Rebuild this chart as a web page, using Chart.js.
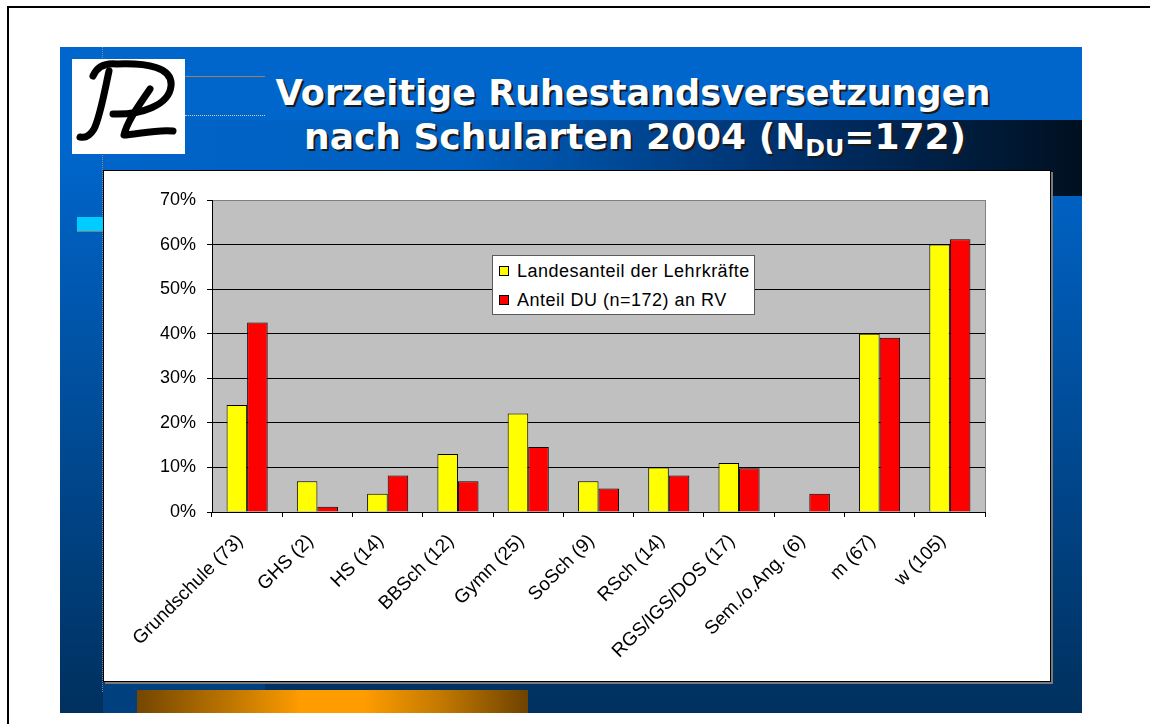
<!DOCTYPE html>
<html>
<head>
<meta charset="utf-8">
<script src="https://cdn.jsdelivr.net/npm/chart.js@4.4.1/dist/chart.umd.min.js"></script>
<style>
body { margin:0; width:1150px; height:724px; position:relative; overflow:hidden; background:#fff; font-family:"Liberation Sans", Arial, sans-serif; }
.abs { position:absolute; }
#frameTop { left:7px; top:6px; width:1143px; height:2px; background:#000; }
#frameLeft { left:7px; top:6px; width:2px; height:718px; background:#000; }
#panel { left:60px; top:47px; width:1022px; height:666px; background:linear-gradient(to bottom, #0066cc 0px, #0066cc 100px, #00305e 666px); }
#band { left:140px; top:120px; width:942px; height:76px; background:linear-gradient(to right, #0063c6 0px, #0060c0 320px, #00306a 650px, #001020 942px); }
#strip { left:103px; top:681px; width:162px; height:32px; background:#00407e; }
#vline { left:102px; top:47px; width:0; height:645px; border-left:1px dotted #8a8a8a; }
#hline1 { left:185px; top:76px; width:80px; height:0; border-top:1px solid #a08060; }
#hline2 { left:185px; top:115px; width:80px; height:0; border-top:1px dotted #d0d0d0; }
#cyan { left:77px; top:217px; width:27px; height:14px; background:#00ccff; border-bottom:1px solid #808080; }
#logo { left:72px; top:59px; }
.title { width:880px; text-align:center; color:#fff; font-family:"DejaVu Sans", Verdana, sans-serif; font-weight:bold; font-size:32px; line-height:40px; text-shadow:2px 2px 0 #1a1a1a; white-space:nowrap; }
.title span { display:inline-block; }
#t1 { top:73px; left:193px; }
#t2 { top:117px; left:195px; }
.title sub { font-size:0.66em; vertical-align:-0.28em; line-height:0; }
#box { left:103px; top:170px; width:946px; height:510px; background:#fff; border:1px solid #000; box-shadow:2px 2px 0 #7a7a7a; }
#chart { position:absolute; left:0; top:0; }
#legend { left:492px; top:255px; width:261px; height:57px; background:#fff; border:1px solid #5a5a5a; padding-top:1px; z-index:5; }
#legend .item { position:relative; height:29px; line-height:29px; padding-left:24px; font-size:18px; letter-spacing:0.5px; color:#000; white-space:nowrap; }
#legend .sw { position:absolute; left:6px; top:9px; width:8px; height:8px; border:1px solid #000; }
#orange { left:137px; top:690px; width:391px; height:23px; background:linear-gradient(to right, #744600 0%, #c27800 25%, #ff9c00 42%, #ff9c00 58%, #c27800 78%, #6e4200 100%); }
</style>
</head>
<body>
<div id="frameTop" class="abs"></div>
<div id="frameLeft" class="abs"></div>
<div id="panel" class="abs"></div>
<div id="band" class="abs"></div>
<div id="strip" class="abs"></div>
<div id="vline" class="abs"></div>
<div id="hline1" class="abs"></div>
<div id="hline2" class="abs"></div>
<div id="cyan" class="abs"></div>
<canvas id="logo" class="abs" width="113" height="95"></canvas>
<div id="t1" class="abs title"><span>Vorzeitige Ruhestandsversetzungen</span></div>
<div id="t2" class="abs title"><span>nach Schularten 2004 (N<sub>DU</sub>=172)</span></div>
<div id="box" class="abs"><canvas id="chart" width="946" height="510"></canvas></div>
<div id="legend" class="abs"></div>
<div id="orange" class="abs"></div>
<script>
// categories and values (percent)
const categories = ['Grundschule (73)', 'GHS (2)', 'HS (14)', 'BBSch (12)', 'Gymn (25)', 'SoSch (9)',
  'RSch (14)', 'RGS/IGS/DOS (17)', 'Sem./o.Ang. (6)', 'm (67)', 'w (105)'];
const seriesNames = ['Landesanteil der Lehrkräfte', 'Anteil DU (n=172) an RV'];
const landesanteil = [24, 6.9, 4.1, 13, 22.1, 6.9, 10, 11, null, 40, 60];
const anteilDU = [42.5, 1.2, 8.2, 6.9, 14.6, 5.3, 8.2, 9.8, 4.1, 39.1, 61.2];
const yMax = 70;
const yStep = 10;

// logo (handwritten initials)
const lg = document.getElementById('logo').getContext('2d');
lg.fillStyle = '#fff';
lg.fillRect(0, 0, 113, 95);
lg.strokeStyle = '#000';
lg.lineCap = 'round';
lg.lineJoin = 'round';
lg.lineWidth = 7;
lg.beginPath();
lg.moveTo(21, 17);
lg.quadraticCurveTo(27, 3, 45, 5);
lg.bezierCurveTo(75, 4, 101, 8, 99, 27);
lg.bezierCurveTo(97, 46, 70, 56, 41, 55);
lg.stroke();
lg.beginPath();
lg.moveTo(37, 12);
lg.bezierCurveTo(32, 35, 28, 58, 22, 70);
lg.quadraticCurveTo(16, 80, 8, 78);
lg.stroke();
lg.beginPath();
lg.moveTo(78, 30);
lg.bezierCurveTo(68, 45, 55, 62, 52, 76);
lg.bezierCurveTo(62, 76, 85, 70, 101, 72);
lg.stroke();

// fit title lines to the widths in the slide
[['t1', 715], ['t2', 662]].forEach(([id, target]) => {
  const el = document.getElementById(id);
  const w = el.querySelector('span').getBoundingClientRect().width;
  el.style.fontSize = (32 * target / w).toFixed(2) + 'px';
});

const plotBackground = {
  id: 'plotBackground',
  beforeDraw(chart) {
    const { ctx, chartArea: a } = chart;
    ctx.save();
    ctx.fillStyle = '#c0c0c0';
    ctx.fillRect(a.left, a.top, a.right - a.left, a.bottom - a.top);
    ctx.strokeStyle = '#808080';
    ctx.lineWidth = 1;
    ctx.beginPath();
    ctx.moveTo(Math.round(a.right) + 0.5, a.top);
    ctx.lineTo(Math.round(a.right) + 0.5, a.bottom);
    ctx.stroke();
    ctx.restore();
  }
};

const chart = new Chart(document.getElementById('chart'), {
  type: 'bar',
  data: {
    labels: categories,
    datasets: [
      { label: seriesNames[0], data: landesanteil, backgroundColor: '#ffff00', borderColor: '#000', borderWidth: 1 },
      { label: seriesNames[1], data: anteilDU, backgroundColor: '#ff0000', borderColor: '#000', borderWidth: 1 }
    ]
  },
  options: {
    responsive: false,
    animation: false,
    devicePixelRatio: 1,
    layout: { padding: { top: 29, right: 65, left: 0, bottom: 0 } },
    datasets: { bar: { categoryPercentage: 0.585, barPercentage: 1 } },
    plugins: { legend: { display: false }, tooltip: { enabled: false } },
    scales: {
      x: {
        grid: { drawOnChartArea: false, tickLength: 5, tickColor: '#000', offset: true },
        border: { color: '#000' },
        ticks: {
          autoSkip: false, maxRotation: 45, minRotation: 45, color: '#000',
          font: { family: 'Liberation Sans', size: 19 }, padding: 13, labelOffset: -7
        },
        afterFit(s) { s.height = 169; }
      },
      y: {
        min: 0,
        max: yMax,
        ticks: { stepSize: yStep, callback: v => v + '%', color: '#000', font: { family: 'Liberation Sans', size: 18 }, padding: 11 },
        grid: { color: c => (c.tick && c.tick.value === yMax ? '#808080' : '#000'), tickColor: '#000', tickLength: 5 },
        border: { color: '#000' },
        afterFit(s) { s.width = 108; }
      }
    }
  },
  plugins: [plotBackground]
});

// legend box inside the plot, built from the datasets
const legendEl = document.getElementById('legend');
chart.data.datasets.forEach(ds => {
  const row = document.createElement('div');
  row.className = 'item';
  const sw = document.createElement('span');
  sw.className = 'sw';
  sw.style.background = ds.backgroundColor;
  row.appendChild(sw);
  row.appendChild(document.createTextNode(ds.label));
  legendEl.appendChild(row);
});
</script>
</body>
</html>
